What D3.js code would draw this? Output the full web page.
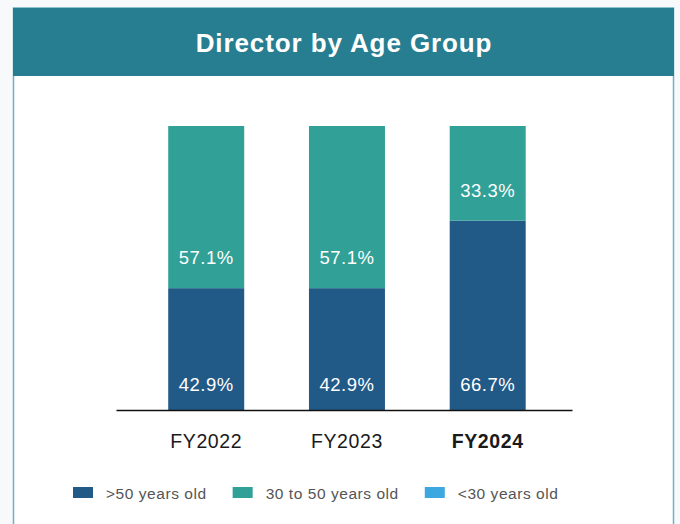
<!DOCTYPE html>
<html>
<head>
<meta charset="utf-8">
<script src="https://cdn.jsdelivr.net/npm/d3@7/dist/d3.min.js"></script>
<style>
  html, body { margin: 0; padding: 0; background: #f7f9fb; }
  svg { display: block; }
  text { font-family: "Liberation Sans", Arial, Helvetica, sans-serif; }
</style>
</head>
<body>
<svg id="chart" width="680" height="524"></svg>
<script>
// Board composition by age band, share of directors (%)
const years = ["FY2022", "FY2023", "FY2024"];
const highlightYear = "FY2024";
const seriesNames = [">50 years old", "30 to 50 years old", "<30 years old"];
const seriesColors = ["#225a87", "#31a097", "#3ca8df"];
const over50 = [42.9, 42.9, 66.7];
const from30to50 = [57.1, 57.1, 33.3];
const under30 = [0, 0, 0];
const chartTitle = "Director by Age Group";

const W = 680, H = 524;
const svg = d3.select("#chart");

// card with header band
svg.append("rect")
  .attr("x", 13.5).attr("y", 8).attr("width", 660).attr("height", H)
  .attr("fill", "#ffffff").attr("stroke", "#6fb1c1").attr("stroke-width", 1.5);
svg.append("rect")
  .attr("x", 13).attr("y", 8).attr("width", 661).attr("height", 68)
  .attr("fill", "#267e90");
svg.append("text")
  .attr("x", 344).attr("y", 52)
  .attr("text-anchor", "middle")
  .attr("fill", "#ffffff")
  .attr("font-size", 26)
  .attr("font-weight", "bold")
  .attr("letter-spacing", 0.9)
  .text(chartTitle);

// stacked data
const rows = years.map((y, i) => ({
  year: y,
  [seriesNames[0]]: over50[i],
  [seriesNames[1]]: from30to50[i],
  [seriesNames[2]]: under30[i]
}));
const stacked = d3.stack().keys(seriesNames)(rows);

const x = d3.scaleBand()
  .domain(years)
  .range([116, 572])
  .paddingInner(0.46)
  .paddingOuter(0.35)
  .align(0.53);
const y = d3.scaleLinear().domain([0, 100]).range([410, 126]);
const color = d3.scaleOrdinal().domain(seriesNames).range(seriesColors);

const layers = svg.append("g").selectAll("g")
  .data(stacked)
  .join("g")
  .attr("fill", d => color(d.key));

layers.selectAll("rect")
  .data(d => d.filter(s => s[1] - s[0] > 0))
  .join("rect")
  .attr("x", d => x(d.data.year))
  .attr("width", x.bandwidth())
  .attr("y", d => y(d[1]))
  .attr("height", d => y(d[0]) - y(d[1]));

// value labels near the base of each segment
layers.selectAll("text")
  .data(d => d.filter(s => s[1] - s[0] > 0))
  .join("text")
  .attr("x", d => x(d.data.year) + x.bandwidth() / 2)
  .attr("y", d => y(d[0]) - (d[0] === 0 ? 19 : 24))
  .attr("text-anchor", "middle")
  .attr("fill", "#ffffff")
  .attr("font-size", 18.5)
  .attr("letter-spacing", 0.5)
  .text(d => d3.format(".1f")(d[1] - d[0]) + "%");

// baseline axis with category labels
const xAxis = svg.append("g")
  .attr("transform", "translate(0,410)")
  .call(d3.axisBottom(x).tickSize(0).tickPadding(0));
xAxis.select(".domain")
  .attr("stroke", "#111111")
  .attr("stroke-width", 1.6);
xAxis.selectAll(".tick text")
  .attr("y", 38)
  .attr("dy", 0)
  .attr("fill", "#1a1a1a")
  .attr("font-size", 19.5)
  .attr("letter-spacing", 0.6)
  .attr("font-weight", d => d === highlightYear ? "bold" : "normal")
  .style("font-family", "'Liberation Sans', Arial, sans-serif");

// legend
const legend = svg.append("g").attr("transform", "translate(73,487)");
let lx = 0;
seriesNames.forEach((name, i) => {
  const item = legend.append("g").attr("transform", `translate(${lx},0)`);
  item.append("rect")
    .attr("width", 20).attr("height", 11)
    .attr("fill", seriesColors[i]);
  const t = item.append("text")
    .attr("x", 33).attr("y", 12)
    .attr("fill", "#555555")
    .attr("font-size", 15.5)
    .attr("letter-spacing", 0.55)
    .text(name);
  lx += 33 + t.node().getComputedTextLength() + 26;
});
</script>
</body>
</html>
